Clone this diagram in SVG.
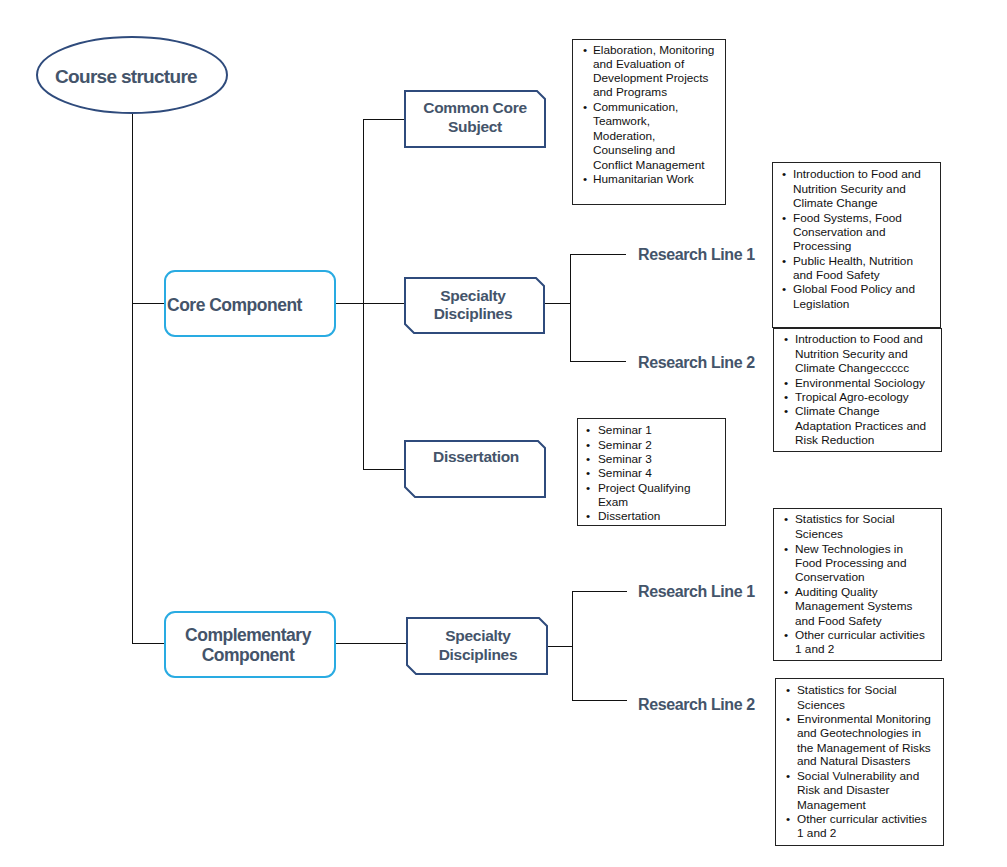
<svg xmlns="http://www.w3.org/2000/svg" width="1007" height="867" viewBox="0 0 1007 867">
<style>
.bg{fill:#ffffff}
.conn line{stroke:#111111;stroke-width:1;fill:none;shape-rendering:crispEdges}
.nav{fill:#ffffff;stroke:#2f4b7c;stroke-width:2}
.lb{fill:#ffffff;stroke:#29abe2;stroke-width:2}
.h{font-family:"Liberation Sans",Arial,sans-serif;font-weight:bold;fill:#44546a}
.bt{font-family:"Liberation Sans",Arial,sans-serif;font-size:11.8px;fill:#111111}
.bx{fill:#ffffff;stroke:#222222;stroke-width:1}
</style>
<rect class="bg" x="0" y="0" width="1007" height="867"/>
<g id="connectors" class="conn">
<line x1="132.5" y1="113" x2="132.5" y2="643.5"/>
<line x1="132" y1="303.5" x2="165" y2="303.5"/>
<line x1="132" y1="643.5" x2="165" y2="643.5"/>
<line x1="335" y1="303.5" x2="405" y2="303.5"/>
<line x1="363.5" y1="119" x2="363.5" y2="469.5"/>
<line x1="363" y1="119.5" x2="405" y2="119.5"/>
<line x1="363" y1="469.5" x2="405" y2="469.5"/>
<line x1="544" y1="303.5" x2="570" y2="303.5"/>
<line x1="570.5" y1="254" x2="570.5" y2="361.5"/>
<line x1="570" y1="254.5" x2="626" y2="254.5"/>
<line x1="570" y1="361.5" x2="626" y2="361.5"/>
<line x1="335" y1="643.5" x2="407" y2="643.5"/>
<line x1="547" y1="646.5" x2="572" y2="646.5"/>
<line x1="572.5" y1="591" x2="572.5" y2="700.5"/>
<line x1="572" y1="591.5" x2="627" y2="591.5"/>
<line x1="572" y1="700.5" x2="627" y2="700.5"/>
</g>
<g id="course-structure">
<ellipse class="nav" cx="132" cy="75" rx="95" ry="38"/>
<text class="h" x="126" y="82.5" font-size="19" letter-spacing="-0.7" text-anchor="middle">Course structure</text>
</g>
<g id="core-component">
<rect class="lb" x="165" y="271" width="170" height="65" rx="10"/>
<text class="h" x="167" y="310.5" font-size="17.5" letter-spacing="-0.5">Core Component</text>
</g>
<g id="complementary-component">
<rect class="lb" x="165" y="612" width="170" height="65" rx="10"/>
<text class="h" x="248" y="641" font-size="17.5" letter-spacing="-0.5" text-anchor="middle">Complementary</text>
<text class="h" x="248" y="661" font-size="17.5" letter-spacing="-0.5" text-anchor="middle">Component</text>
</g>
<g id="common-core-subject">
<path class="nav" d="M405,91 H537 L545,99 V147 H405 Z"/>
<text class="h" x="475" y="113" font-size="15.5" letter-spacing="-0.3" text-anchor="middle">Common Core</text>
<text class="h" x="475" y="131.5" font-size="15.5" letter-spacing="-0.3" text-anchor="middle">Subject</text>
</g>
<g id="specialty-core">
<path class="nav" d="M405,278 H536 L544,286 V333 H414 L405,324 Z"/>
<text class="h" x="473" y="301" font-size="15.5" letter-spacing="-0.3" text-anchor="middle">Specialty</text>
<text class="h" x="473" y="319" font-size="15.5" letter-spacing="-0.3" text-anchor="middle">Disciplines</text>
</g>
<g id="dissertation">
<path class="nav" d="M405,441 H538 L545,448 V497 H415 L405,487 Z"/>
<text class="h" x="476" y="461.5" font-size="15.5" letter-spacing="-0.3" text-anchor="middle">Dissertation</text>
</g>
<g id="specialty-complementary">
<path class="nav" d="M407,618 H539 L547,626 V674 H416 L407,665 Z"/>
<text class="h" x="478" y="641" font-size="15.5" letter-spacing="-0.3" text-anchor="middle">Specialty</text>
<text class="h" x="478" y="659.5" font-size="15.5" letter-spacing="-0.3" text-anchor="middle">Disciplines</text>
</g>
<g id="core-research-line-1">
<text class="h" x="638" y="260" font-size="16" letter-spacing="-0.4">Research Line 1</text>
</g>
<g id="core-research-line-2">
<text class="h" x="638" y="368" font-size="16" letter-spacing="-0.4">Research Line 2</text>
</g>
<g id="comp-research-line-1">
<text class="h" x="638" y="597" font-size="16" letter-spacing="-0.4">Research Line 1</text>
</g>
<g id="comp-research-line-2">
<text class="h" x="638" y="710" font-size="16" letter-spacing="-0.4">Research Line 2</text>
</g>
<g id="common-core-list">
<rect class="bx" x="572.5" y="39.5" width="153" height="165"/>
<text class="bt" x="583" y="54">•</text>
<text class="bt" x="593" y="54">Elaboration, Monitoring</text>
<text class="bt" x="593" y="68">and Evaluation of</text>
<text class="bt" x="593" y="82">Development Projects</text>
<text class="bt" x="593" y="96">and Programs</text>
<text class="bt" x="583" y="110.5">•</text>
<text class="bt" x="593" y="110.5">Communication,</text>
<text class="bt" x="593" y="125">Teamwork,</text>
<text class="bt" x="593" y="139.5">Moderation,</text>
<text class="bt" x="593" y="154">Counseling and</text>
<text class="bt" x="593" y="168.5">Conflict Management</text>
<text class="bt" x="583" y="182.5">•</text>
<text class="bt" x="593" y="182.5">Humanitarian Work</text>
</g>
<g id="core-rl1-list">
<rect class="bx" x="772.5" y="162.5" width="168" height="165"/>
<text class="bt" x="782" y="178">•</text>
<text class="bt" x="793" y="178">Introduction to Food and</text>
<text class="bt" x="793" y="192.5">Nutrition Security and</text>
<text class="bt" x="793" y="207">Climate Change</text>
<text class="bt" x="782" y="221.5">•</text>
<text class="bt" x="793" y="221.5">Food Systems, Food</text>
<text class="bt" x="793" y="236">Conservation and</text>
<text class="bt" x="793" y="250">Processing</text>
<text class="bt" x="782" y="264.5">•</text>
<text class="bt" x="793" y="264.5">Public Health, Nutrition</text>
<text class="bt" x="793" y="278.5">and Food Safety</text>
<text class="bt" x="782" y="293">•</text>
<text class="bt" x="793" y="293">Global Food Policy and</text>
<text class="bt" x="793" y="307.5">Legislation</text>
</g>
<g id="core-rl2-list">
<rect class="bx" x="773.5" y="328.5" width="168" height="123"/>
<text class="bt" x="784" y="343">•</text>
<text class="bt" x="795" y="343">Introduction to Food and</text>
<text class="bt" x="795" y="357.5">Nutrition Security and</text>
<text class="bt" x="795" y="372">Climate Changeccccc</text>
<text class="bt" x="784" y="386.5">•</text>
<text class="bt" x="795" y="386.5">Environmental Sociology</text>
<text class="bt" x="784" y="401">•</text>
<text class="bt" x="795" y="401">Tropical Agro-ecology</text>
<text class="bt" x="784" y="415">•</text>
<text class="bt" x="795" y="415">Climate Change</text>
<text class="bt" x="795" y="429.5">Adaptation Practices and</text>
<text class="bt" x="795" y="444">Risk Reduction</text>
</g>
<g id="dissertation-list">
<rect class="bx" x="577.5" y="418.5" width="148" height="107"/>
<text class="bt" x="586" y="434">•</text>
<text class="bt" x="598" y="434">Seminar 1</text>
<text class="bt" x="586" y="448.5">•</text>
<text class="bt" x="598" y="448.5">Seminar 2</text>
<text class="bt" x="586" y="462.5">•</text>
<text class="bt" x="598" y="462.5">Seminar 3</text>
<text class="bt" x="586" y="477">•</text>
<text class="bt" x="598" y="477">Seminar 4</text>
<text class="bt" x="586" y="491.5">•</text>
<text class="bt" x="598" y="491.5">Project Qualifying</text>
<text class="bt" x="598" y="506">Exam</text>
<text class="bt" x="586" y="520">•</text>
<text class="bt" x="598" y="520">Dissertation</text>
</g>
<g id="comp-rl1-list">
<rect class="bx" x="773.5" y="508.5" width="168" height="152"/>
<text class="bt" x="784" y="523">•</text>
<text class="bt" x="795" y="523">Statistics for Social</text>
<text class="bt" x="795" y="538">Sciences</text>
<text class="bt" x="784" y="552.5">•</text>
<text class="bt" x="795" y="552.5">New Technologies in</text>
<text class="bt" x="795" y="567">Food Processing and</text>
<text class="bt" x="795" y="581">Conservation</text>
<text class="bt" x="784" y="596">•</text>
<text class="bt" x="795" y="596">Auditing Quality</text>
<text class="bt" x="795" y="610">Management Systems</text>
<text class="bt" x="795" y="624.5">and Food Safety</text>
<text class="bt" x="784" y="638.5">•</text>
<text class="bt" x="795" y="638.5">Other curricular activities</text>
<text class="bt" x="795" y="652.5">1 and 2</text>
</g>
<g id="comp-rl2-list">
<rect class="bx" x="775.5" y="678.5" width="168" height="167"/>
<text class="bt" x="786" y="694">•</text>
<text class="bt" x="797" y="694">Statistics for Social</text>
<text class="bt" x="797" y="708.5">Sciences</text>
<text class="bt" x="786" y="722.5">•</text>
<text class="bt" x="797" y="722.5">Environmental Monitoring</text>
<text class="bt" x="797" y="737">and Geotechnologies in</text>
<text class="bt" x="797" y="751.5">the Management of Risks</text>
<text class="bt" x="797" y="765">and Natural Disasters</text>
<text class="bt" x="786" y="779.5">•</text>
<text class="bt" x="797" y="779.5">Social Vulnerability and</text>
<text class="bt" x="797" y="794">Risk and Disaster</text>
<text class="bt" x="797" y="808.5">Management</text>
<text class="bt" x="786" y="822.5">•</text>
<text class="bt" x="797" y="822.5">Other curricular activities</text>
<text class="bt" x="797" y="837">1 and 2</text>
</g>
</svg>
